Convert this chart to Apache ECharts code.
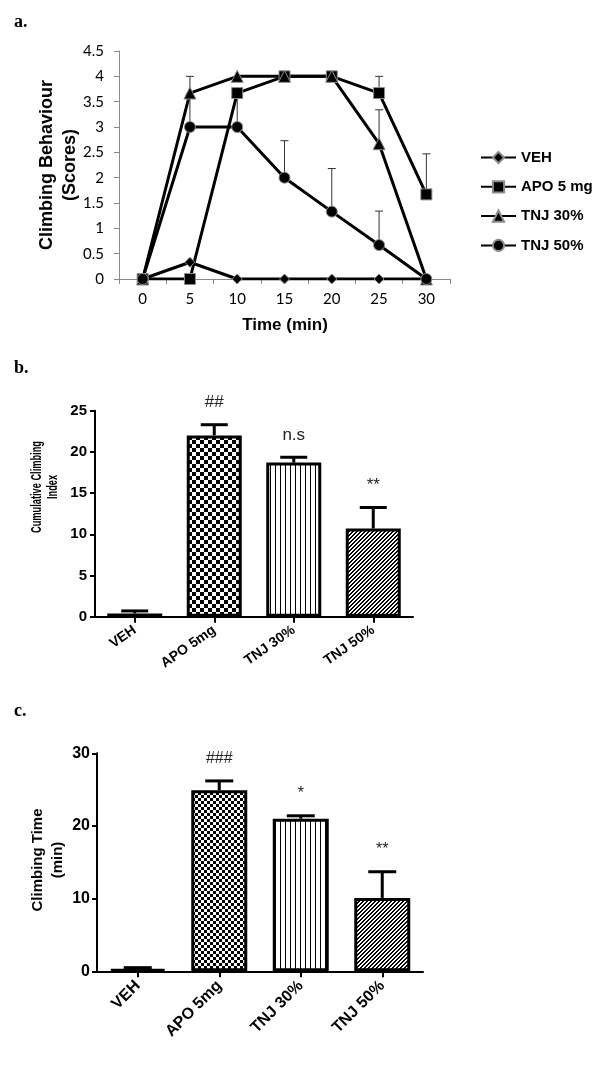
<!DOCTYPE html>
<html>
<head>
<meta charset="utf-8">
<script src="https://cdn.jsdelivr.net/npm/echarts@6/dist/echarts.min.js"></script>
<style>
html,body{margin:0;padding:0;background:#fff;}
#chart{width:600px;height:1075px;}
</style>
</head>
<body>
<div id="chart"></div>
<script>
// ---- Panel a: climbing behaviour scores over time ----
const timeCats = ['0', '5', '10', '15', '20', '25', '30'];
const vehScores = [0, 0.33, 0, 0, 0, 0, 0];
const apoScores = [0, 0, 3.67, 4, 4, 3.67, 1.67];
const apoScoresErr = [0, 0, 0, 0, 0, 0.33, 0.8];
const tnj30Scores = [0, 3.67, 4, 4, 4, 2.67, 0];
const tnj30ScoresErr = [0, 0.33, 0, 0, 0, 0.67, 0];
const tnj50Scores = [0, 3, 3, 2, 1.33, 0.67, 0];
const tnj50ScoresErr = [0, 0.65, 0.67, 0.73, 0.85, 0.67, 0];
const legendNames = ['VEH', 'APO 5 mg', 'TNJ 30%', 'TNJ 50%'];

// ---- Panel b: cumulative climbing index ----
const groups = ['VEH', 'APO 5mg', 'TNJ 30%', 'TNJ 50%'];
const cciMean = [0.4, 22, 18.7, 10.7];
const cciErr = [0.3, 1.3, 0.65, 2.55];
const cciSig = ['', '##', 'n.s', '**'];

// ---- Panel c: climbing time ----
const timeMean = [0.3, 24.9, 21.0, 10.1];
const timeErr = [0.2, 1.3, 0.4, 3.6];
const timeSig = ['', '###', '*', '**'];

function makePattern(kind, cell) {
  const c = document.createElement('canvas');
  const g = c.getContext('2d');
  if (kind === 'checker') {
    c.width = c.height = cell * 2;
    g.fillStyle = '#fff'; g.fillRect(0, 0, cell * 2, cell * 2);
    g.fillStyle = '#000'; g.fillRect(0, 0, cell, cell); g.fillRect(cell, cell, cell, cell);
  } else if (kind === 'vstripe') {
    c.width = cell; c.height = cell;
    g.fillStyle = '#fff'; g.fillRect(0, 0, cell, cell);
    g.fillStyle = '#000'; g.fillRect(0, 0, 1, cell);
  } else if (kind === 'diag') {
    c.width = c.height = cell;
    g.fillStyle = '#fff'; g.fillRect(0, 0, cell, cell);
    g.fillStyle = '#000';
    for (let i = 0; i < cell; i++) {
      g.fillRect(i, cell - 1 - i, 1, 1);
      g.fillRect(i, (cell - i) % cell, 1, 1);
    }
  }
  return { image: c, repeat: 'repeat' };
}

function errData(mean, err) {
  return mean.map((m, i) => [i, m, err[i]]);
}

function errRender(capW, lw, color, sig, font) {
  return function (params, api) {
    const x = api.value(0), y = api.value(1), e = api.value(2);
    const p0 = api.coord([x, y]);
    const p1 = api.coord([x, y + e]);
    const children = [];
    if (e > 0) {
      children.push({ type: 'line', shape: { x1: p0[0], y1: p0[1], x2: p1[0], y2: p1[1] }, style: { stroke: color, lineWidth: lw } });
      children.push({ type: 'line', shape: { x1: p1[0] - capW / 2, y1: p1[1], x2: p1[0] + capW / 2, y2: p1[1] }, style: { stroke: color, lineWidth: lw } });
    }
    if (sig && sig[params.dataIndex]) {
      children.push({ type: 'text', x: p1[0], y: p1[1] - 22, style: { text: sig[params.dataIndex], textAlign: 'center', textVerticalAlign: 'middle', font: font, fill: '#222' } });
    }
    return { type: 'group', children: children };
  };
}

const chart = echarts.init(document.getElementById('chart'), null, { renderer: 'canvas' });

const grayAxis = { show: true, lineStyle: { color: '#8a8a8a', width: 1 } };
const blackAxis = { show: true, lineStyle: { color: '#000', width: 2 } };
const sansBold = '"Liberation Sans", Arial, sans-serif';

function lineSeries(name, data, symbol, size) {
  return {
    type: 'line', name: name, data: data, xAxisIndex: 0, yAxisIndex: 0,
    symbol: symbol, symbolSize: size,
    lineStyle: { color: '#000', width: 3 },
    itemStyle: { color: '#000', borderColor: '#8c8c8c', borderWidth: 1 },
    z: 3
  };
}

function errSeriesA(mean, err) {
  return {
    type: 'custom', xAxisIndex: 0, yAxisIndex: 0, z: 2,
    renderItem: errRender(8, 1, '#333'),
    data: errData(mean, err), silent: true
  };
}

const option = {
  animation: false,
  backgroundColor: '#fff',
  grid: [
    { left: 119, top: 51, width: 331, height: 228 },
    { left: 95, top: 410.7, width: 318, height: 206 },
    { left: 97, top: 753.3, width: 326, height: 218 }
  ],
  xAxis: [
    {
      type: 'category', gridIndex: 0, data: timeCats, boundaryGap: true,
      axisLine: grayAxis,
      axisTick: { show: true, length: 5, lineStyle: { color: '#8a8a8a' } },
      axisLabel: { color: '#000', fontFamily: 'Lato, sans-serif', fontSize: 15, margin: 13 }
    },
    {
      type: 'category', gridIndex: 1, data: groups,
      axisLine: blackAxis,
      axisTick: { show: true, alignWithLabel: true, length: 6, lineStyle: { width: 2, color: '#000' } },
      axisLabel: { color: '#000', fontFamily: sansBold, fontWeight: 'bold', fontSize: 14, rotate: 35, margin: 12 }
    },
    {
      type: 'category', gridIndex: 2, data: groups,
      axisLine: blackAxis,
      axisTick: { show: true, alignWithLabel: true, length: 6, lineStyle: { width: 2, color: '#000' } },
      axisLabel: { color: '#000', fontFamily: sansBold, fontWeight: 'bold', fontSize: 16, rotate: 45, margin: 12 }
    }
  ],
  yAxis: [
    {
      type: 'value', gridIndex: 0, min: 0, max: 4.5, interval: 0.5,
      axisLine: grayAxis,
      axisTick: { show: true, length: 5, lineStyle: { color: '#8a8a8a' } },
      splitLine: { show: false },
      axisLabel: { color: '#000', fontFamily: 'Lato, sans-serif', fontSize: 15, margin: 15 }
    },
    {
      type: 'value', gridIndex: 1, min: 0, max: 25, interval: 5,
      axisLine: blackAxis,
      axisTick: { show: true, length: 5, lineStyle: { width: 2, color: '#000' } },
      splitLine: { show: false },
      axisLabel: { color: '#000', fontFamily: sansBold, fontWeight: 'bold', fontSize: 15, margin: 8 }
    },
    {
      type: 'value', gridIndex: 2, min: 0, max: 30, interval: 10,
      axisLine: blackAxis,
      axisTick: { show: true, length: 5, lineStyle: { width: 2, color: '#000' } },
      splitLine: { show: false },
      axisLabel: { color: '#000', fontFamily: sansBold, fontWeight: 'bold', fontSize: 16, margin: 7 }
    }
  ],
  legend: {
    data: legendNames,
    orient: 'vertical', left: 475, top: 145,
    itemWidth: 35, itemHeight: 14, itemGap: 14.3,
    textStyle: { color: '#000', fontFamily: sansBold, fontWeight: 'bold', fontSize: 15, lineHeight: 14 }
  },
  graphic: [
    { type: 'text', left: 14, top: 13, style: { text: 'a.', font: 'bold 18px "Liberation Serif", serif', fill: '#000' } },
    { type: 'text', left: 14, top: 359, style: { text: 'b.', font: 'bold 18px "Liberation Serif", serif', fill: '#000' } },
    { type: 'text', left: 14, top: 702, style: { text: 'c.', font: 'bold 18px "Liberation Serif", serif', fill: '#000' } },
    { type: 'text', x: 58.5, y: 165, rotation: Math.PI / 2,
      style: { text: 'Climbing Behaviour\n(Scores)', font: 'bold 18px ' + sansBold, lineHeight: 23, textAlign: 'center', textVerticalAlign: 'middle', fill: '#000' } },
    { type: 'text', x: 285, y: 325,
      style: { text: 'Time (min)', font: 'bold 17px ' + sansBold, textAlign: 'center', textVerticalAlign: 'middle', fill: '#000' } },
    { type: 'text', x: 45, y: 487, rotation: Math.PI / 2, scaleX: 0.66,
      style: { text: 'Cumulative Climbing\nIndex', font: 'bold 14px ' + sansBold, lineHeight: 16, textAlign: 'center', textVerticalAlign: 'middle', fill: '#000' } },
    { type: 'text', x: 48, y: 860, rotation: Math.PI / 2,
      style: { text: 'Climbing Time\n(min)', font: 'bold 15px ' + sansBold, lineHeight: 20, textAlign: 'center', textVerticalAlign: 'middle', fill: '#000' } }
  ],
  series: [
    errSeriesA(apoScores, apoScoresErr),
    errSeriesA(tnj30Scores, tnj30ScoresErr),
    errSeriesA(tnj50Scores, tnj50ScoresErr),
    lineSeries('VEH', vehScores, 'diamond', 10),
    lineSeries('APO 5 mg', apoScores, 'rect', 11),
    lineSeries('TNJ 30%', tnj30Scores, 'triangle', 12),
    lineSeries('TNJ 50%', tnj50Scores, 'circle', 11),
    {
      type: 'bar', xAxisIndex: 1, yAxisIndex: 1, barWidth: 55, z: 2,
      data: cciMean.map((v, i) => ({
        value: v,
        itemStyle: { color: [ '#000', makePattern('checker', 4), makePattern('vstripe', 5), makePattern('diag', 4) ][i], borderColor: '#000', borderWidth: 3 }
      }))
    },
    {
      type: 'custom', xAxisIndex: 1, yAxisIndex: 1, z: 3, silent: true,
      renderItem: errRender(27, 3, '#000', cciSig, '17px ' + sansBold),
      data: errData(cciMean, cciErr)
    },
    {
      type: 'bar', xAxisIndex: 2, yAxisIndex: 2, barWidth: 56, z: 2,
      data: timeMean.map((v, i) => ({
        value: v,
        itemStyle: { color: [ '#000', makePattern('checker', 3), makePattern('vstripe', 5), makePattern('diag', 4) ][i], borderColor: '#000', borderWidth: 3 }
      }))
    },
    {
      type: 'custom', xAxisIndex: 2, yAxisIndex: 2, z: 3, silent: true,
      renderItem: errRender(28, 3, '#000', timeSig, '16px ' + sansBold),
      data: errData(timeMean, timeErr)
    }
  ]
};
chart.setOption(option);
</script>
</body>
</html>
